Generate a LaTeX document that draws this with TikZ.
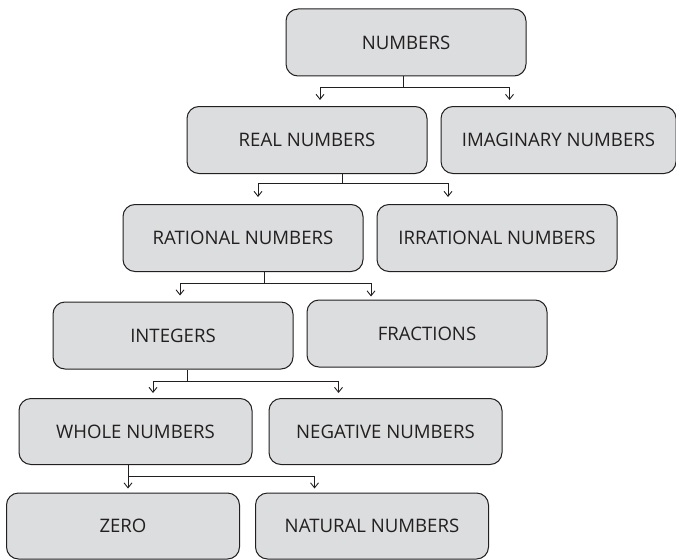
\documentclass[tikz,border=0pt]{standalone}
\usepackage{fontspec}
\setmainfont{Open Sans}
\usetikzlibrary{calc, positioning, arrows.meta}

\definecolor{boxfill}{HTML}{DCDDDE}
\definecolor{ink}{HTML}{231F20}

\begin{document}
\begin{tikzpicture}[
  x=1pt, y=-1pt,
  box/.style={minimum width=240pt, minimum height=67pt, draw=ink, fill=boxfill,
    line width=1pt, rounded corners=12pt, align=center, inner sep=0pt,
    text=ink, font=\fontsize{18.6}{21}\selectfont},
  slim/.style={box, minimum width=233pt, minimum height=66pt},
  link/.style={draw=ink, line width=0.9pt},
  arr/.style={link, -{Straight Barb[length=5pt, width=8pt]}}
]
\useasboundingbox (0,0) rectangle (676,559);

% Define tree blocks
\node[box] (NUM) at (406,42.5) {NUMBERS};
\node[box] (REAL) at (307,140) {REAL NUMBERS};
\node[box, minimum width=235pt, right=13pt of REAL] (IMAG) {IMAGINARY NUMBERS};
\node[box] (RAT) at (243,238) {RATIONAL NUMBERS};
\node[box, right=13pt of RAT] (IRR) {IRRATIONAL NUMBERS};
\node[box] (INT) at (173,335.5) {INTEGERS};
\node[box, right=13pt of INT, yshift=2pt] (FRAC) {FRACTIONS};
\node[slim] (WHOLE) at (135.5,431.5) {WHOLE NUMBERS};
\node[slim, right=16pt of WHOLE] (NEG) {NEGATIVE NUMBERS};
\node[slim] (ZERO) at (123,526) {ZERO};
\node[slim, right=15pt of ZERO] (NAT) {NATURAL NUMBERS};

% Junction points
\coordinate (j1) at ([xshift=-3pt, yshift=-11pt]NUM.south);
\coordinate (j2) at ([xshift=35pt, yshift=-9pt]REAL.south);
\coordinate (j3) at ([xshift=21pt, yshift=-11pt]RAT.south);
\coordinate (j4) at ([xshift=14pt, yshift=-12pt]INT.south);
\coordinate (z5) at ([xshift=5pt, yshift=4pt]ZERO.north);
\coordinate (j5) at ($(z5 |- WHOLE.south)+(0,11)$);

% Connectors
\draw[link] (j1 |- NUM.south) -- (j1);
\draw[arr] (j1) -| ([xshift=13pt, yshift=6pt]REAL.north);
\draw[arr] (j1) -| ([xshift=-49pt, yshift=6pt]IMAG.north);

\draw[link] (j2 |- REAL.south) -- (j2);
\draw[arr] (j2) -| ([xshift=15pt, yshift=7pt]RAT.north);
\draw[arr] (j2) -| ([xshift=-49pt, yshift=7pt]IRR.north);

\draw[link] (j3 |- RAT.south) -- (j3);
\draw[arr] (j3) -| ([xshift=7pt, yshift=6pt]INT.north);
\draw[arr] (j3) -| ([xshift=-56pt, yshift=3pt]FRAC.north);

\draw[link] (j4 |- INT.south) -- (j4);
\draw[arr] (j4) -| ([xshift=17.5pt, yshift=5pt]WHOLE.north);
\draw[arr] (j4) -| ([xshift=-47pt, yshift=5pt]NEG.north);

\draw[arr] (z5 |- WHOLE.south) -- (z5);
\draw[arr] (j5) -| ([xshift=-57.5pt, yshift=4pt]NAT.north);

\end{tikzpicture}
\end{document}
